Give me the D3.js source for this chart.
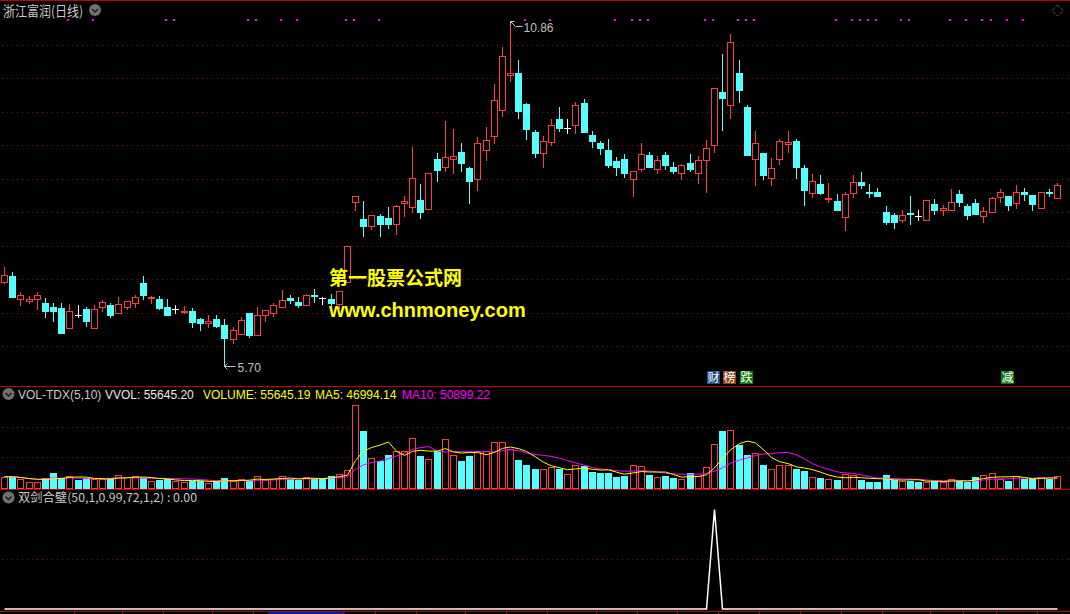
<!DOCTYPE html>
<html><head><meta charset="utf-8">
<script src="https://cdn.jsdelivr.net/npm/d3@7/dist/d3.min.js"></script>
<style>
html,body{margin:0;padding:0;background:#000;overflow:hidden}
svg{display:block}
</style></head><body>
<svg id="c" width="1070" height="614"></svg>
<script>
// ---------------- DATA ----------------
const stockTitle = "浙江富润(日线)";
const open = [
6.96,7.05,6.71,6.67,6.70,6.65,6.59,6.57,6.28,6.47,
6.56,6.28,6.59,6.62,6.49,6.58,6.65,6.95,6.73,6.71,
6.59,6.56,6.51,6.53,6.41,6.35,6.41,6.32,6.11,6.19,
6.50,6.17,6.46,6.49,6.58,6.72,6.66,6.61,6.77,6.72,
6.71,6.63,6.96,8.15,7.90,7.79,7.95,7.92,7.82,8.14,
8.08,8.18,8.05,8.80,8.67,8.79,8.90,8.66,8.50,8.93,
9.14,9.53,10.05,10.08,9.62,9.20,8.89,9.05,9.39,9.26,
9.30,9.63,9.16,9.03,8.93,8.76,8.79,8.50,8.65,8.85,
8.64,8.85,8.67,8.58,8.73,8.59,8.78,9.00,9.79,9.60,
10.08,9.57,8.79,8.88,8.51,8.79,9.02,9.06,8.66,8.29,
8.42,8.20,8.17,7.93,8.29,8.45,8.31,8.30,8.00,7.96,
7.89,7.99,7.94,7.88,8.12,8.03,8.03,8.27,8.09,8.14,
7.94,8.01,8.23,8.24,8.14,8.30,8.26,8.07,8.30,8.22];
const high = [
7.18,7.11,6.81,6.75,6.81,6.72,6.65,6.65,6.63,6.62,
6.59,6.61,6.69,6.64,6.74,6.68,6.77,7.05,6.75,6.75,
6.71,6.62,6.60,6.57,6.42,6.47,6.47,6.41,6.29,6.44,
6.50,6.59,6.54,6.64,6.84,6.76,6.74,6.78,6.86,6.74,
6.78,6.83,7.50,8.24,8.17,7.96,7.98,8.08,8.11,8.24,
8.98,8.42,8.58,8.88,9.37,9.25,9.03,8.67,9.13,9.28,
9.91,10.46,10.86,10.27,9.63,9.23,9.14,9.39,9.57,9.39,
9.64,9.69,9.22,9.06,9.09,8.82,8.87,8.62,9.04,8.90,
8.84,8.90,8.75,8.72,8.87,8.84,9.08,9.85,10.37,10.66,
10.27,9.60,9.22,8.88,8.81,9.10,9.21,9.09,8.70,8.57,
8.56,8.44,8.27,8.30,8.56,8.60,8.42,8.36,8.09,7.99,
8.03,8.24,8.03,8.19,8.20,8.11,8.35,8.33,8.13,8.20,
8.08,8.23,8.35,8.24,8.41,8.36,8.26,8.30,8.35,8.44];
const low = [
6.94,6.73,6.62,6.65,6.56,6.44,6.38,6.20,6.28,6.44,
6.31,6.28,6.53,6.44,6.49,6.55,6.59,6.71,6.64,6.56,
6.47,6.50,6.49,6.29,6.25,6.29,6.29,5.70,6.05,6.19,
6.14,6.17,6.38,6.45,6.58,6.64,6.59,6.61,6.66,6.63,
6.62,6.57,6.96,8.03,7.65,7.75,7.64,7.77,7.68,7.95,
8.01,7.92,8.05,8.46,8.61,8.59,8.62,8.14,8.33,8.78,
9.03,9.44,9.96,9.41,9.09,8.83,8.67,9.00,9.22,9.19,
9.19,9.20,8.98,8.87,8.67,8.55,8.53,8.25,8.62,8.68,
8.58,8.64,8.59,8.50,8.62,8.43,8.31,8.90,9.23,9.40,
9.64,8.86,8.41,8.50,8.40,8.72,8.90,8.51,8.11,8.23,
8.28,8.16,8.04,7.74,8.23,8.37,8.23,8.25,7.83,7.77,
7.86,7.83,7.89,7.88,7.98,7.96,8.03,8.09,7.90,7.98,
7.85,8.01,8.16,8.04,8.07,8.19,8.04,8.07,8.24,8.22];
const close = [
7.07,6.73,6.76,6.71,6.76,6.53,6.53,6.20,6.53,6.47,
6.38,6.56,6.66,6.47,6.63,6.68,6.74,6.77,6.74,6.57,
6.47,6.56,6.53,6.37,6.35,6.38,6.31,6.13,6.24,6.39,
6.17,6.47,6.54,6.62,6.69,6.69,6.61,6.76,6.75,6.72,
6.64,6.83,7.50,8.24,7.80,7.96,7.83,7.83,8.09,8.17,
8.51,8.01,8.58,8.63,8.82,8.84,8.74,8.46,9.04,9.08,
9.67,10.33,10.08,9.51,9.24,8.89,9.06,9.30,9.26,9.26,
9.60,9.20,9.07,8.96,8.70,8.68,8.58,8.61,8.87,8.68,
8.78,8.70,8.61,8.70,8.64,8.78,8.96,9.85,9.71,10.54,
9.83,8.86,9.03,8.56,8.66,9.06,9.05,8.67,8.34,8.46,
8.29,8.22,8.04,8.28,8.45,8.40,8.30,8.25,7.86,7.85,
7.96,7.97,7.94,8.18,8.04,8.06,8.15,8.15,7.96,7.98,
8.02,8.21,8.30,8.11,8.30,8.28,8.13,8.30,8.29,8.41];
const volume = [
54060,54060,42930,28620,28620,49290,73140,46110,57240,36570,
46110,41340,41340,46110,62010,50880,57240,46110,33390,38160,
42930,33390,30210,34980,34980,23850,31800,49290,31800,42930,
31800,57240,39750,42930,55650,42930,36570,52470,46110,46110,
58830,66780,87450,397500,270300,144690,127200,159000,174900,174900,
238500,154230,139920,174900,233730,159000,127200,154230,174900,178080,
219420,219420,187620,135150,111300,91000,89040,101760,90630,65190,
108120,106530,76320,71550,71550,52470,57240,108120,103350,62010,
50880,57240,47700,42930,71550,55650,98580,208290,271890,276660,
205110,157410,165360,109710,89040,108120,108120,90630,81090,50880,
47700,41340,38160,66780,60420,38160,28620,28620,62010,38160,
31800,34980,30210,30210,33390,27030,44520,34980,30210,52470,
64000,74000,44000,33000,59021,42000,42000,52000,43326,55645.19];
// 双剑合璧 indicator output
const sjhb = [
0,0,0,0,0,0,0,0,0,0, 0,0,0,0,0,0,0,0,0,0,
0,0,0,0,0,0,0,0,0,0, 0,0,0,0,0,0,0,0,0,0,
0,0,0,0,0,0,0,0,0,0, 0,0,0,0,0,0,0,0,0,0,
0,0,0,0,0,0,0,0,0,0, 0,0,0,0,0,0,0,0,0,0,
0,0,0,0,0,0,0,1,0,0, 0,0,0,0,0,0,0,0,0,0,
0,0,0,0,0,0,0,0,0,0, 0,0,0,0,0,0,0,0,0,0,
0,0,0,0,0,0,0,0,0,0];
const priceGrid = [6.0,6.5,7.0,7.5,8.0,8.5,9.0,9.5,10.0,10.5];
const volGrid = [148000, 292000];
const sjhbGrid = [0.5];
const topMarks = [8,11,20,21,30,31,34,36,42,43,46,64,67,75,77,78,79,86,87,90,91,92,102,104,105,106,107,110,111,116,118,120,121,123,125];
const eventIdx = [87,89,91,123];
const eventText = ["财","榜","跌","减"];
const eventColor = ["#1c4f86","#8a4512","#0c7c0c","#0c7c0c"];
const weekTicks = [9,15,20,26,31,42,46,51,57,62,67,73,78,83,88,93,98,103,108,114,118,122,127];
const volLegendText = ["VOL-TDX(5,10)","VVOL: 55645.20","VOLUME: 55645.19","MA5: 46994.14","MA10: 50899.22"];
const volLegendColor = ["#c8c8c8","#e8e8e8","#ffff00","#ffff00","#ff00ff"];
const sjhbTitle = "双剑合璧(50,1,0.99,72,1,2) : 0.00";
const watermark = ["第一股票公式网","www.chnmoney.com"];

// ---------------- DRAW ----------------
const N = open.length;
const W = 1070, H = 614;
const RED = "#ff3c3c", CYAN = "#54ffff", GRID = "#8a0c0c", SEP = "#c00000";
const svg = d3.select("#c");
svg.append("rect").attr("width", W).attr("height", H).attr("fill", "#000");

const x = d3.scaleBand().domain(d3.range(N)).range([0, 1061]).paddingInner(0.26).paddingOuter(0.13);
const cx = i => x(i) + x.bandwidth() / 2;
const Lft = i => Math.round(cx(i)) - 3;

const y = d3.scaleLinear().domain([6, 10.5]).range([346.3, 44.8]);
const vy = d3.scaleLinear().domain([0, 492000]).range([488, 385]);
const iy = d3.scaleLinear().domain([0, 1]).range([609, 509.5]);

// separators
const seps = [0.5, 386.5, 489.5, 611.5];
svg.selectAll(".sep").data(seps).enter().append("line")
  .attr("x1", 0).attr("x2", W).attr("y1", d => d).attr("y2", d => d)
  .attr("stroke", SEP).attr("stroke-width", 1);

// grids
function grid(vals, sc) {
  svg.append("g").selectAll("line").data(vals).enter().append("line")
    .attr("x1", 2).attr("x2", W)
    .attr("y1", d => Math.round(sc(d)) + 0.5).attr("y2", d => Math.round(sc(d)) + 0.5)
    .attr("stroke", GRID).attr("stroke-dasharray", "1,4");
}
grid(priceGrid, y); grid(volGrid, vy); grid(sjhbGrid, iy);

// candles
const gC = svg.append("g");
for (let i = 0; i < N; i++) {
  const o = open[i], c = close[i];
  const yh = Math.round(y(high[i])), yl = Math.round(y(low[i]));
  const yo = Math.round(y(o)), yc = Math.round(y(c));
  const top = Math.min(yo, yc), bot = Math.max(yo, yc);
  const L = Lft(i), wx = L + 3.5;
  if (c > o) {
    if (top > yh) gC.append("line").attr("x1", wx).attr("x2", wx).attr("y1", yh).attr("y2", top).attr("stroke", RED);
    if (yl > bot) gC.append("line").attr("x1", wx).attr("x2", wx).attr("y1", bot).attr("y2", yl + 1).attr("stroke", RED);
    gC.append("rect").attr("x", L + 0.5).attr("y", top + 0.5).attr("width", 6).attr("height", Math.max(bot - top, 1))
      .attr("fill", "#000").attr("stroke", RED);
  } else if (c < o) {
    gC.append("line").attr("x1", wx).attr("x2", wx).attr("y1", yh).attr("y2", yl + 1).attr("stroke", CYAN);
    gC.append("rect").attr("x", L).attr("y", top).attr("width", 7).attr("height", Math.max(bot - top, 1) + 1)
      .attr("fill", CYAN);
  } else {
    gC.append("line").attr("x1", wx).attr("x2", wx).attr("y1", yh).attr("y2", yl + 1).attr("stroke", "#fff");
    gC.append("line").attr("x1", L).attr("x2", L + 7).attr("y1", yo + 0.5).attr("y2", yo + 0.5).attr("stroke", "#fff");
  }
}

// top markers
svg.append("g").selectAll("rect").data(topMarks).enter().append("rect")
  .attr("x", d => Math.round(cx(d)) - 2).attr("y", 19).attr("width", 2).attr("height", 2).attr("fill", "#ff00ff");

// high / low annotations
const hiIdx = d3.maxIndex(high), loIdx = d3.minIndex(low);
const labFont = "'Liberation Sans', Arial, sans-serif";
{
  const hx = Math.round(cx(hiIdx)) + 0.5, hy = Math.round(y(high[hiIdx])) + 0.5;
  svg.append("path").attr("d", `M${hx},${hy} L${hx + 4},${hy} M${hx},${hy} L${hx},${hy + 4} M${hx},${hy} L${hx + 5},${hy + 5} L${hx + 12},${hy + 5}`)
    .attr("stroke", "#c0c0c0").attr("fill", "none");
  svg.append("text").attr("x", hx + 13).attr("y", hy + 10).text(high[hiIdx].toFixed(2))
    .attr("fill", "#c0c0c0").attr("font-size", 12).attr("font-family", labFont);
  const lx = Math.round(cx(loIdx)) + 0.5, ly = Math.round(y(low[loIdx])) + 0.5;
  svg.append("path").attr("d", `M${lx + 11},${ly} L${lx},${ly} M${lx},${ly} L${lx + 3},${ly - 3} M${lx},${ly} L${lx + 3},${ly + 3}`)
    .attr("stroke", "#c0c0c0").attr("fill", "none");
  svg.append("text").attr("x", lx + 13).attr("y", ly + 5).text(low[loIdx].toFixed(2))
    .attr("fill", "#c0c0c0").attr("font-size", 12).attr("font-family", labFont);
}

// title + icons
function icon(cxp, cyp) {
  svg.append("circle").attr("cx", cxp).attr("cy", cyp).attr("r", 6).attr("fill", "#707070");
  svg.append("path").attr("d", `M${cxp - 3},${cyp - 1} L${cxp},${cyp + 2} L${cxp + 3},${cyp - 1}`)
    .attr("stroke", "#1a1a1a").attr("stroke-width", 1.4).attr("fill", "none");
}
svg.append("text").attr("x", 3).attr("y", 16).text(stockTitle)
  .attr("fill", "#c8c8c8").attr("font-size", 13.5).attr("font-family", "'Noto Sans CJK SC', sans-serif")
  .attr("textLength", 80).attr("lengthAdjust", "spacingAndGlyphs");
icon(95, 10);
svg.append("path").attr("d", "M1057.5,5 L1063,10.5 L1057.5,16 L1052,10.5 Z")
  .attr("fill", "none").attr("stroke", "#8a8a8a").attr("stroke-dasharray", "1,1");

// watermark
svg.append("text").attr("x", 329).attr("y", 285).text(watermark[0])
  .attr("fill", "#ffff00").attr("font-size", 19).attr("font-weight", "bold")
  .attr("font-family", "'Noto Sans CJK SC', sans-serif");
svg.append("text").attr("x", 329).attr("y", 317).text(watermark[1])
  .attr("fill", "#ffff00").attr("font-size", 20).attr("font-weight", "bold")
  .attr("font-family", labFont);

// event badges
eventIdx.forEach((d, k) => {
  const bx = Math.round(cx(d)) - 7;
  svg.append("rect").attr("x", bx).attr("y", 371).attr("width", 13).attr("height", 13).attr("fill", eventColor[k]);
  svg.append("text").attr("x", bx + 6.5).attr("y", 382).attr("text-anchor", "middle").text(eventText[k])
    .attr("fill", "#fff").attr("font-size", 12).attr("font-family", "'Noto Sans CJK SC', sans-serif");
});

// volume bars
const gV = svg.append("g");
for (let i = 0; i < N; i++) {
  const c = close[i], o = open[i];
  const up = c > o || (c === o && (i === 0 || c >= close[i - 1]));
  const top = Math.round(vy(volume[i])), base = 488;
  const L = Lft(i);
  if (up) gV.append("rect").attr("x", L + 0.5).attr("y", top + 0.5).attr("width", 6).attr("height", Math.max(base - top, 1))
    .attr("fill", "#000").attr("stroke", RED);
  else gV.append("rect").attr("x", L).attr("y", top).attr("width", 7).attr("height", base - top + 1).attr("fill", CYAN);
}
function ma(arr, n) { return arr.map((_, i) => d3.mean(arr.slice(Math.max(0, i - n + 1), i + 1))); }
const ma5 = ma(volume, 5), ma10 = ma(volume, 10);
const vline = d3.line().x((d, i) => Math.round(cx(i)) + 0.5).y(d => vy(d));
svg.append("path").attr("d", vline(ma10)).attr("stroke", "#ff00ff").attr("fill", "none");
svg.append("path").attr("d", vline(ma5)).attr("stroke", "#ffff00").attr("fill", "none");

icon(8.5, 394);
const volLegendX = [18, 105, 203, 315, 402];
volLegendText.forEach((t, k) => {
  svg.append("text").attr("x", volLegendX[k]).attr("y", 398.5).text(t)
    .attr("fill", volLegendColor[k]).attr("font-size", 12).attr("font-family", labFont);
});

// indicator panel
const iline = d3.line().x((d, i) => Math.round(cx(i)) + 0.5).y(d => iy(d));
svg.append("path").attr("d", iline(sjhb)).attr("stroke", "#fff").attr("stroke-width", 1.5).attr("fill", "none");
icon(8.5, 497.5);
svg.append("text").attr("x", 18).attr("y", 502).text(sjhbTitle)
  .attr("fill", "#c8c8c8").attr("font-size", 12).attr("font-family", "'Noto Sans CJK SC', sans-serif")
  .attr("textLength", 179).attr("lengthAdjust", "spacingAndGlyphs");

// bottom strip
svg.append("rect").attr("x", 268).attr("y", 612).attr("width", 77).attr("height", 2).attr("fill", "#1414a8");
svg.append("g").selectAll("line").data(weekTicks).enter().append("line")
  .attr("x1", d => Math.round(x(d)) - 0.5).attr("x2", d => Math.round(x(d)) - 0.5)
  .attr("y1", 611).attr("y2", 614).attr("stroke", SEP);
</script>
</body></html>
